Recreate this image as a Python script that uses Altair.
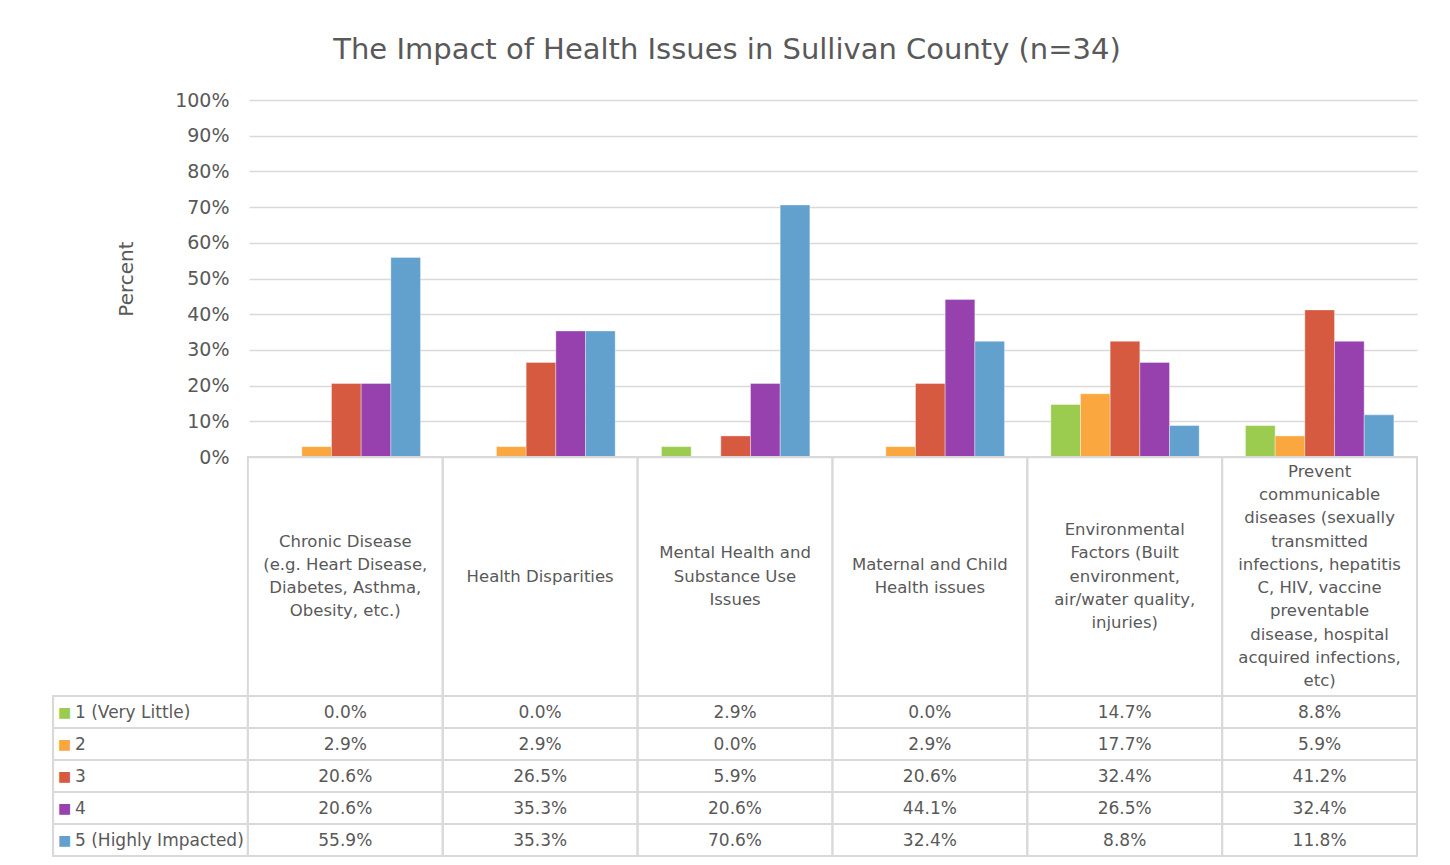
import altair as alt
import pandas as pd

# ---------------- data ----------------
chart_title = "The Impact of Health Issues in Sullivan County (n=34)"
categories = [
    "Chronic Disease\n(e.g. Heart Disease,\nDiabetes, Asthma,\nObesity, etc.)",
    "Health Disparities",
    "Mental Health and\nSubstance Use\nIssues",
    "Maternal and Child\nHealth issues",
    "Environmental\nFactors (Built\nenvironment,\nair/water quality,\ninjuries)",
    "Prevent\ncommunicable\ndiseases (sexually\ntransmitted\ninfections, hepatitis\nC, HIV, vaccine\npreventable\ndisease, hospital\nacquired infections,\netc)",
]
series = ["1 (Very Little)", "2", "3", "4", "5 (Highly Impacted)"]
series_colors = ["#9BCB4F", "#F9A73E", "#D55A3F", "#9641AE", "#62A0CD"]
pct_1 = [0.0, 0.0, 2.9, 0.0, 14.7, 8.8]
pct_2 = [2.9, 2.9, 0.0, 2.9, 17.7, 5.9]
pct_3 = [20.6, 26.5, 5.9, 20.6, 32.4, 41.2]
pct_4 = [20.6, 35.3, 20.6, 44.1, 26.5, 32.4]
pct_5 = [55.9, 35.3, 70.6, 32.4, 8.8, 11.8]
y_ticks = [0, 0.1, 0.2, 0.3, 0.4, 0.5, 0.6, 0.7, 0.8, 0.9, 1.0]
legend_col = "Rating"

# ---------------- layout (pixels, not data) ----------------
W = 1364          # whole plot area: legend column + 6 category columns
H = 756           # bars + header row + 5 table rows
BAR_LEFT = 196    # where category columns begin
BAR_H = 357       # height of the bar region
ROW_TOP = 596     # first table row
LH = 23.3         # header line height
FONT = "DejaVu Sans"
TXT = "#595959"
LINE = "#D9D9D9"
COL_W = W / (len(categories) + 1)

# ---------------- tables ----------------
rows = []
for s, vals in zip(series, [pct_1, pct_2, pct_3, pct_4, pct_5]):
    for c, v in zip(categories, vals):
        rows.append({"category": c, "col": c, "series": s, "value": v / 100})
df = pd.DataFrame(rows)

cols = [legend_col] + categories
cells = pd.DataFrame([{"col": c, "series": s} for c in cols for s in series])
header = pd.DataFrame({"col": categories, "row": ["header"] * len(categories)})
legend_df = pd.DataFrame({"col": [legend_col] * len(series), "series": series,
                          "mark": ["\u25A0"] * len(series)})

line_rows = []
for c in categories:
    parts = c.split("\n")
    n = len(parts)
    for k, p in enumerate(parts):
        line_rows.append({"col": c, "line": p, "pos": k - (n - 1) / 2})
header_lines = pd.DataFrame(line_rows)
L_HALF = (ROW_TOP - BAR_H) / LH / 2

col_scale = alt.Scale(domain=cols, range=[0, W], paddingInner=0, paddingOuter=0)
row_scale = alt.Scale(domain=series, range=[ROW_TOP, H], paddingInner=0, paddingOuter=0)
hdr_scale = alt.Scale(domain=["header"], range=[BAR_H, ROW_TOP], paddingInner=0, paddingOuter=0)
line_scale = alt.Scale(domain=[-L_HALF, L_HALF], range=[BAR_H, ROW_TOP])
color_scale = alt.Scale(domain=series, range=series_colors)

# ---------------- bars ----------------
bars = alt.Chart(df).mark_bar(stroke="white", strokeWidth=0.6, strokeOpacity=0.6).encode(
    x=alt.X("category:N", axis=None,
            scale=alt.Scale(domain=categories, range=[BAR_LEFT, W], paddingInner=0, paddingOuter=0)),
    xOffset=alt.XOffset("series:N",
                        scale=alt.Scale(domain=series, paddingInner=0, paddingOuter=0.78)),
    y=alt.Y("value:Q",
            scale=alt.Scale(domain=[0, 1], range=[BAR_H, 0]),
            axis=alt.Axis(values=y_ticks, format="%", offset=-BAR_LEFT, domain=False, ticks=False,
                          grid=True, gridColor=LINE, gridWidth=1.5,
                          labelFontSize=19, labelColor=TXT, labelFont=FONT, labelPadding=20,
                          title="Percent", titleFontSize=20, titleColor=TXT, titleFont=FONT,
                          titleFontWeight="normal", titlePadding=38)),
    color=alt.Color("series:N", scale=color_scale, legend=None),
)

# ---------------- table ----------------
cell_rects = alt.Chart(cells).mark_rect(filled=False, stroke=LINE, strokeWidth=2).encode(
    x=alt.X("col:N", scale=col_scale, axis=None),
    y=alt.Y("series:N", scale=row_scale, axis=None),
)

header_rects = alt.Chart(header).mark_rect(filled=False, stroke=LINE, strokeWidth=2).encode(
    x=alt.X("col:N", scale=col_scale, axis=None),
    y=alt.Y("row:N", scale=hdr_scale, axis=None),
)

header_text = alt.Chart(header_lines).mark_text(
    fontSize=16.5, font=FONT, color=TXT, align="center", baseline="middle",
).encode(
    x=alt.X("col:N", scale=col_scale, axis=None),
    y=alt.Y("pos:Q", scale=line_scale, axis=None),
    text="line:N",
)

value_text = alt.Chart(df).mark_text(
    fontSize=17, font=FONT, color=TXT, align="center", baseline="middle", dy=1,
).encode(
    x=alt.X("col:N", scale=col_scale, axis=None),
    y=alt.Y("series:N", scale=row_scale, axis=None),
    text=alt.Text("value:Q", format=".1%"),
)

legend_text = alt.Chart(legend_df).mark_text(
    fontSize=17, font=FONT, color=TXT, align="left", baseline="middle", dy=1,
    dx=22 - COL_W / 2,
).encode(
    x=alt.X("col:N", scale=col_scale, axis=None),
    y=alt.Y("series:N", scale=row_scale, axis=None),
    text="series:N",
)

swatches = alt.Chart(legend_df).mark_text(
    fontSize=14, font=FONT, align="center", baseline="middle", dx=11.5 - COL_W / 2, dy=1,
).encode(
    x=alt.X("col:N", scale=col_scale, axis=None),
    y=alt.Y("series:N", scale=row_scale, axis=None),
    text="mark:N",
    color=alt.Color("series:N", scale=color_scale, legend=None),
)

chart = alt.layer(
    bars, header_rects, cell_rects, header_text, value_text, legend_text, swatches
).resolve_scale(
    x="independent", y="independent"
).properties(
    width=W, height=H,
    padding={"left": 45, "top": 92, "right": 20, "bottom": 5},
    autosize=alt.AutoSizeParams(type="none"),
    title=alt.TitleParams(text=chart_title, fontSize=29, font=FONT, color=TXT,
                          fontWeight="normal", anchor="middle", baseline="alphabetic",
                          frame="group", offset=3, dx=-8),
).configure(font=FONT, view=alt.ViewConfig(stroke=None))

chart.save("out.html", embed_options={"renderer": "svg", "actions": False})
